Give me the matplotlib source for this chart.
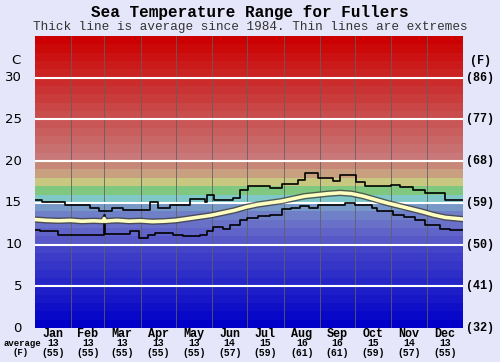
import matplotlib
matplotlib.use("Agg")
import matplotlib.pyplot as plt
import matplotlib.patheffects as pe
import numpy as np

# ---------------- data ----------------
months = ["Jan", "Feb", "Mar", "Apr", "May", "Jun", "Jul", "Aug", "Sep", "Oct", "Nov", "Dec"]
avg_c = [13, 13, 13, 13, 13, 14, 15, 16, 16, 15, 14, 13]
avg_f = [55, 55, 55, 55, 55, 57, 59, 61, 61, 59, 57, 55]
c_ticks = [0, 5, 10, 15, 20, 25, 30]
f_labels = ["(32)", "(41)", "(50)", "(59)", "(68)", "(77)", "(86)"]

# maximum (upper thin line), step breakpoints: day of year, deg C
max_days = [0, 6, 26, 47, 55, 66, 75, 84, 98, 105, 115, 132, 145, 147, 153, 166, 169, 175,
            182, 200, 211, 224, 230, 241, 254, 260, 274, 281, 304, 311, 322, 333, 350, 365]
max_vals = [15.3, 15.15, 14.7, 14.4, 14.07, 14.4, 14.2, 14.1, 15.1, 14.4, 14.7, 15.5, 15.15,
            15.9, 15.4, 15.3, 15.6, 16.6, 17.0, 16.8, 17.3, 17.7, 18.6, 18.0, 17.6, 18.3,
            17.5, 17.0, 17.1, 16.9, 16.6, 16.2, 15.3, 15.3]

# minimum (lower thin line)
min_days = [0, 4, 20, 30, 59, 60, 81, 89, 96, 102, 118, 126, 141, 147, 152, 160, 166, 175,
            181, 190, 200, 211, 218, 226, 234, 241, 252, 264, 273, 287, 292, 305, 315, 324,
            333, 345, 354, 365]
min_vals = [11.7, 11.6, 11.2, 11.1, 13.5, 11.3, 11.6, 10.8, 11.2, 11.4, 11.2, 11.0, 11.2,
            11.6, 12.1, 11.9, 12.3, 12.9, 13.2, 13.4, 13.6, 14.3, 14.4, 14.6, 14.4, 14.7,
            14.8, 15.0, 14.8, 14.4, 14.0, 13.5, 13.3, 13.0, 12.4, 11.9, 11.8, 11.8]

# average (thick line)
avg_days = [0, 10, 20, 30, 40, 50, 58, 59, 60, 64, 70, 80, 90, 100, 110, 120, 130, 140, 150,
            160, 170, 180, 190, 200, 210, 220, 230, 240, 250, 260, 270, 280, 290, 300, 310,
            320, 330, 340, 350, 365]
avg_vals = [13.0, 12.9, 12.85, 12.9, 12.8, 12.85, 12.8, 13.1, 12.8, 12.85, 12.9, 12.8,
            12.85, 12.75, 12.8, 12.9, 13.1, 13.3, 13.5, 13.8, 14.1, 14.5, 14.8, 15.0,
            15.2, 15.5, 15.8, 15.95, 16.1, 16.2, 16.1, 15.8, 15.4, 15.0, 14.65, 14.3,
            13.95, 13.55, 13.25, 13.05]

# ---------------- figure ----------------
W, H = 500, 362
BG = "#e6e6fa"
fig = plt.figure(figsize=(W / 100, H / 100), dpi=100, facecolor=BG)
ax = fig.add_axes([35 / W, 1 - 328 / H, 428 / W, (328 - 36) / H])
ax.set_xlim(0, 365)
ax.set_ylim(0, 35)

def band_color(i):
    if i < 10:
        t = i / 9
        return (68 * t / 255, 68 * t / 255, 200 / 255)
    table = {10: (88, 88, 200), 11: (96, 100, 200), 12: (104, 112, 200), 13: (112, 128, 200),
             14: (120, 152, 200), 15: (128, 200, 200), 16: (128, 200, 128),
             17: (200, 200, 128), 18: (200, 160, 128), 19: (200, 136, 120)}
    if i in table:
        r, g, b = table[i]
        return (r / 255, g / 255, b / 255)
    t = (i - 20) / 14
    return ((200 + 4 * t) / 255, 120 * (1 - t) / 255, 120 * (1 - t) / 255)

for i in range(35):
    ax.axhspan(i, i + 1, color=band_color(i), lw=0, zorder=0)

# month separators
month_len = [31, 28, 31, 30, 31, 30, 31, 31, 30, 31, 30, 31]
edges = np.cumsum([0] + month_len)
for e in edges[1:-1]:
    ax.axvline(e, color="#606060", lw=0.72, alpha=0.8, zorder=1, antialiased=False)
for c in c_ticks[1:]:
    ax.axhline(c, color="white", lw=1.5, zorder=1)

ax.plot(max_days, max_vals, drawstyle="steps-post", color="black", lw=1.2, zorder=3)
ax.plot(min_days, min_vals, drawstyle="steps-post", color="black", lw=1.2, zorder=3)
ax.plot(avg_days, avg_vals, color="#ffffc0", lw=2.6, zorder=4,
        path_effects=[pe.Stroke(linewidth=4.6, foreground="#404040", alpha=0.8), pe.Normal()])

ax.set_xticks([])
ax.set_yticks([])
for s in ax.spines.values():
    s.set_visible(False)

# y labels
def fy(px):
    return 1 - px / H

for c in c_ticks:
    ypx = 328 - c * (292 / 35)
    fig.text(22 / W, fy(ypx), str(c), ha="right", va="center", fontsize=9.5,
             family="DejaVu Sans", color="black")
for c, lab in zip(c_ticks, f_labels):
    ypx = 328 - c * (292 / 35)
    fig.text(466 / W, fy(ypx), lab, ha="left", va="center", fontsize=8.5,
             family="Liberation Mono", weight="bold", color="black")
fig.text(16 / W, fy(61), "C", ha="center", va="center", fontsize=9.5, family="DejaVu Sans")
fig.text(481 / W, fy(61), "(F)", ha="center", va="center", fontsize=8.5,
         family="Liberation Mono", weight="bold")

# month labels
for i, m in enumerate(months):
    xc = (edges[i] + edges[i + 1]) / 2
    xpx = 35 + xc / 365 * 428
    fig.text(xpx / W, fy(334), m, ha="center", va="center", fontsize=8.5,
             family="Liberation Mono", weight="bold")
    fig.text(xpx / W, fy(343.5), str(avg_c[i]), ha="center", va="center", fontsize=7,
             family="Liberation Mono", weight="bold")
    fig.text(xpx / W, fy(352.5), "(%d)" % avg_f[i], ha="center", va="center", fontsize=7,
             family="Liberation Mono", weight="bold")
fig.text(22 / W, fy(343.5), "average", ha="center", va="center", fontsize=6.5,
         family="Liberation Mono", weight="bold")
fig.text(21 / W, fy(352.5), "(F)", ha="center", va="center", fontsize=6.5,
         family="Liberation Mono", weight="bold")

# titles
fig.text(0.5, fy(12), "Sea Temperature Range for Fullers", ha="center", va="center",
         fontsize=11.5, family="Liberation Mono", weight="bold")
fig.text(0.5, fy(27), "Thick line is average since 1984. Thin lines are extremes",
         ha="center", va="center", fontsize=9.1, family="Liberation Mono", color="#333333")

fig.savefig("out.png", dpi=100, facecolor=BG)
